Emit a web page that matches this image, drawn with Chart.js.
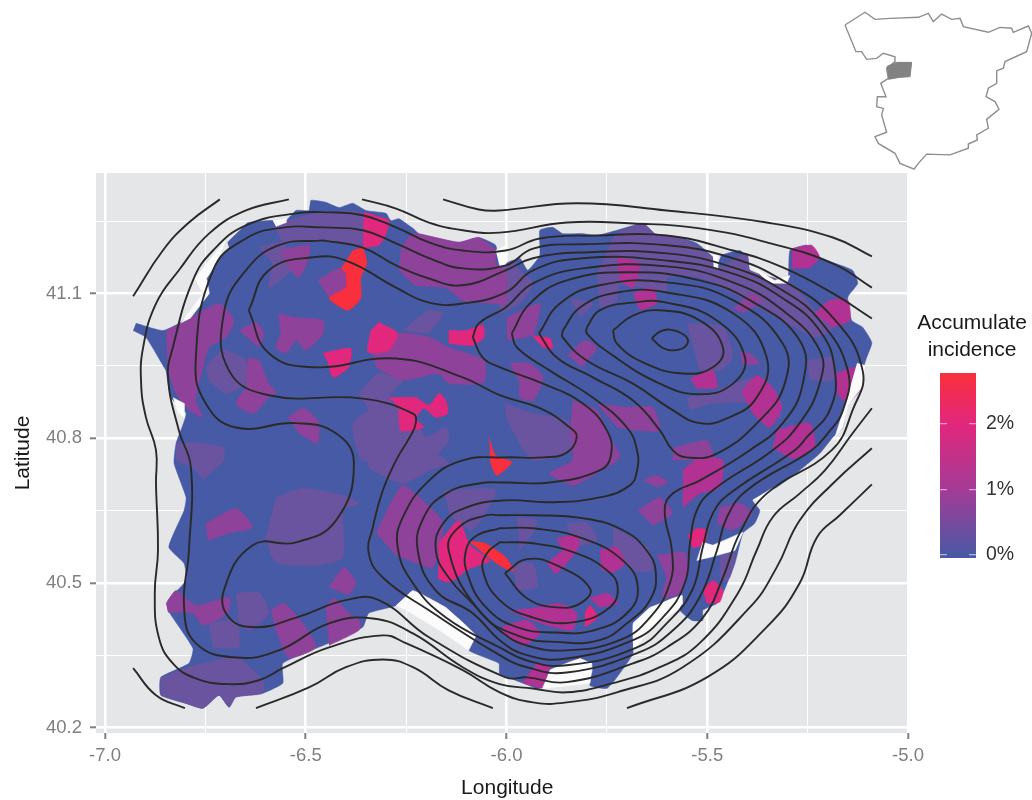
<!DOCTYPE html>
<html>
<head>
<meta charset="utf-8">
<title>Accumulate incidence map</title>
<script src="https://cdn.jsdelivr.net/npm/chart.js@4/dist/chart.umd.min.js"></script>
<style>
body { margin: 0; background: #fff; font-family: "Liberation Sans", Arial, sans-serif; }
canvas { position: absolute; display: block; }
#legendTitle { position: absolute; left: 910px; top: 308px; width: 124px; text-align: center; font-size: 21px; line-height: 27px; color: #1a1a1a; }
</style>
</head>
<body>
<canvas id="map" width="1032" height="800" style="left:0;top:0"></canvas>
<canvas id="inset" width="192" height="175" style="left:840px;top:0"></canvas>
<canvas id="scale" width="102" height="210" style="left:930px;top:360px"></canvas>
<div id="legendTitle">Accumulate<br>incidence</div>
<script>
// axes
var lonMajor = [-7, -6.5, -6, -5.5, -5];
var lonMinor = [-6.75, -6.25, -5.75, -5.25];
var latMajor = [40.2, 40.5, 40.8, 41.1];
var latMinor = [40.35, 40.65, 40.95, 41.25];

// all shapes below are flat lists: lon, lat, lon, lat, ...
var regionOutline = [
  -6.923,41.038, -6.856,41.023, -6.811,41.040, -6.774,41.071, -6.756,41.100, -6.768,41.131, -6.731,41.162, -6.691,41.195,
  -6.694,41.206, -6.656,41.237, -6.644,41.247, -6.582,41.251, -6.574,41.241, -6.549,41.251, -6.524,41.272, -6.492,41.272,
  -6.487,41.293, -6.450,41.289, -6.417,41.278, -6.383,41.287, -6.350,41.272, -6.300,41.266, -6.288,41.251, -6.268,41.255,
  -6.233,41.235, -6.218,41.224, -6.119,41.206, -6.069,41.216, -6.027,41.200, -6.017,41.158, -5.967,41.173, -5.947,41.148,
  -5.917,41.179, -5.917,41.231, -5.885,41.237, -5.860,41.224, -5.810,41.224, -5.775,41.220, -5.725,41.231, -5.660,41.245,
  -5.631,41.224, -5.601,41.206, -5.568,41.216, -5.526,41.204, -5.486,41.175, -5.476,41.154, -5.464,41.179, -5.419,41.189,
  -5.399,41.173, -5.394,41.148, -5.327,41.123, -5.299,41.127, -5.294,41.189, -5.252,41.200, -5.220,41.175, -5.187,41.164,
  -5.138,41.148, -5.125,41.121, -5.150,41.092, -5.140,41.044, -5.113,41.030, -5.090,40.998, -5.103,40.967, -5.113,40.940,
  -5.115,40.905, -5.152,40.872, -5.162,40.822, -5.187,40.802, -5.220,40.768, -5.270,40.733, -5.327,40.698, -5.387,40.671,
  -5.369,40.650, -5.382,40.623, -5.411,40.603, -5.431,40.540, -5.461,40.478, -5.476,40.457, -5.511,40.443, -5.511,40.422,
  -5.538,40.422, -5.568,40.443, -5.561,40.474, -5.601,40.464, -5.685,40.416, -5.685,40.354, -5.725,40.304, -5.750,40.281,
  -5.792,40.287, -5.785,40.325, -5.817,40.343, -5.892,40.319, -5.917,40.281, -5.959,40.292, -6.017,40.312, -6.019,40.333,
  -6.094,40.360, -6.076,40.391, -6.151,40.449, -6.233,40.484, -6.275,40.453, -6.343,40.437, -6.358,40.408, -6.442,40.375,
  -6.557,40.333, -6.557,40.292, -6.607,40.271, -6.674,40.263, -6.691,40.242, -6.716,40.267, -6.756,40.240, -6.798,40.250,
  -6.861,40.267, -6.861,40.304, -6.791,40.333, -6.781,40.364, -6.843,40.443, -6.843,40.464, -6.798,40.505, -6.803,40.540,
  -6.841,40.574, -6.803,40.650, -6.798,40.677, -6.828,40.748, -6.823,40.789, -6.798,40.851, -6.836,40.884, -6.848,40.940,
  -6.853,40.947, -6.898,41.009, -6.930,41.023
];

// municipalities by incidence tier, lowest first
var patchesLow = [
  [-6.617,41.195, -6.557,41.206, -6.532,41.154, -6.592,41.112, -6.582,41.162],
  [-6.582,41.241, -6.475,41.266, -6.358,41.266, -6.358,41.204, -6.457,41.210, -6.557,41.206],
  [-6.749,40.947, -6.706,40.982, -6.649,40.961, -6.649,40.913, -6.699,40.893, -6.741,40.920],
  [-6.258,41.023, -6.193,41.065, -6.158,41.059, -6.193,41.017],
  [-6.368,40.893, -6.318,40.934, -6.258,40.920, -6.293,40.884, -6.226,40.837, -6.201,40.802, -6.151,40.822, -6.144,40.795, -6.193,40.754, -6.358,40.754, -6.383,40.831, -6.343,40.858],
  [-6.823,40.789, -6.781,40.791, -6.706,40.781, -6.704,40.754, -6.731,40.733, -6.756,40.716, -6.781,40.739, -6.823,40.754],
  [-6.574,40.677, -6.507,40.696, -6.407,40.681, -6.368,40.665, -6.407,40.650, -6.407,40.553, -6.475,40.536, -6.574,40.542, -6.599,40.594],
  [-6.674,40.478, -6.617,40.480, -6.592,40.437, -6.642,40.401, -6.666,40.416],
  [-6.741,40.416, -6.674,40.422, -6.666,40.366, -6.731,40.366],
  [-6.861,40.304, -6.791,40.325, -6.756,40.333, -6.674,40.345, -6.607,40.298, -6.607,40.271, -6.674,40.263, -6.691,40.242, -6.716,40.267, -6.756,40.240, -6.798,40.250, -6.861,40.267],
  [-6.350,40.775, -6.193,40.775, -6.144,40.748, -6.193,40.733, -6.258,40.706, -6.343,40.737],
  [-6.158,40.692, -6.027,40.692, -6.069,40.623, -6.091,40.609, -6.141,40.640],
  [-6.004,40.872, -5.934,40.851, -5.850,40.837, -5.825,40.781, -5.934,40.754, -5.999,40.837],
  [-5.730,41.224, -5.660,41.245, -5.631,41.224, -5.568,41.216, -5.486,41.175, -5.486,41.148, -5.401,41.183, -5.394,41.148, -5.294,41.121, -5.232,41.065, -5.187,41.030, -5.227,41.009, -5.312,41.044, -5.436,41.100, -5.519,41.133, -5.601,41.133, -5.601,41.106, -5.660,41.112, -5.725,41.121, -5.775,41.141],
  [-6.017,41.154, -5.984,41.168, -5.967,41.148, -5.934,41.121, -5.967,41.079, -6.017,41.059],
  [-5.469,40.557, -5.431,40.561, -5.444,40.511, -5.469,40.499],
  [-5.252,40.961, -5.187,40.967, -5.187,40.920, -5.245,40.920],
  [-5.551,41.038, -5.461,41.030, -5.436,40.967, -5.469,40.940, -5.519,40.940],
  [-5.551,40.884, -5.486,40.893, -5.436,40.913, -5.369,40.926, -5.327,40.884, -5.319,40.843, -5.387,40.872, -5.486,40.872, -5.543,40.858],
  [-5.842,41.090, -5.785,41.079, -5.817,41.050],
  [-5.775,41.148, -5.725,41.148, -5.725,41.086, -5.768,41.071],
  [-5.974,40.636, -5.924,40.629, -5.934,40.603, -5.967,40.567],
  [-5.850,40.623, -5.800,40.625, -5.775,40.588, -5.835,40.574],
  [-5.984,40.540, -5.934,40.540, -5.924,40.491, -5.974,40.484],
  [-5.735,40.615, -5.651,40.574, -5.636,40.526, -5.685,40.526, -5.735,40.574]
];
var patchesMid = [
  [-6.562,41.189, -6.492,41.200, -6.492,41.175, -6.517,41.133, -6.542,41.154, -6.557,41.175],
  [-6.470,41.127, -6.417,41.152, -6.395,41.133, -6.400,41.092, -6.442,41.092],
  [-6.848,41.023, -6.806,41.040, -6.716,41.079, -6.679,41.044, -6.699,41.009, -6.741,40.988, -6.756,40.947, -6.774,40.878, -6.756,40.843, -6.798,40.864, -6.823,40.893, -6.843,40.940],
  [-6.666,41.023, -6.624,41.040, -6.604,41.017, -6.617,40.988],
  [-6.569,41.059, -6.524,41.050, -6.457,41.044, -6.457,41.017, -6.500,40.982, -6.524,41.003, -6.549,40.976, -6.574,40.988, -6.562,41.017],
  [-6.644,40.967, -6.617,40.961, -6.592,40.913, -6.574,40.895, -6.592,40.884, -6.632,40.851, -6.674,40.872, -6.649,40.905],
  [-6.544,40.843, -6.507,40.862, -6.470,40.837, -6.470,40.789, -6.517,40.810],
  [-6.263,41.193, -6.233,41.224, -6.119,41.206, -6.069,41.216, -6.027,41.189, -6.027,41.162, -6.002,41.148, -6.002,41.079, -6.034,41.079, -6.109,41.086, -6.151,41.112, -6.226,41.117, -6.268,41.148],
  [-6.333,40.976, -6.268,41.017, -6.193,41.009, -6.144,40.988, -6.056,40.961, -6.056,40.916, -6.144,40.913, -6.168,40.934, -6.258,40.920, -6.325,40.947],
  [-6.749,40.623, -6.674,40.654, -6.632,40.615, -6.691,40.603, -6.744,40.588],
  [-6.442,40.491, -6.405,40.532, -6.375,40.499, -6.393,40.474],
  [-6.848,40.457, -6.823,40.484, -6.774,40.453, -6.691,40.470, -6.694,40.437, -6.756,40.412, -6.781,40.437, -6.843,40.439],
  [-6.587,40.443, -6.554,40.457, -6.507,40.416, -6.475,40.366, -6.542,40.345, -6.574,40.401],
  [-6.450,40.449, -6.430,40.468, -6.393,40.437, -6.363,40.418, -6.368,40.401, -6.442,40.370],
  [-6.325,40.603, -6.288,40.665, -6.258,40.702, -6.201,40.665, -6.158,40.623, -6.183,40.532, -6.241,40.546, -6.275,40.557],
  [-5.660,40.712, -5.626,40.723, -5.598,40.708, -5.626,40.698],
  [-5.673,40.650, -5.618,40.677, -5.586,40.644, -5.636,40.619],
  [-5.835,40.878, -5.775,40.858, -5.743,40.802, -5.718,40.760, -5.792,40.719, -5.835,40.702, -5.892,40.727, -5.835,40.754, -5.842,40.816],
  [-5.775,40.872, -5.700,40.864, -5.636,40.864, -5.618,40.816, -5.668,40.816, -5.725,40.822],
  [-5.992,40.955, -5.942,40.955, -5.909,40.926, -5.934,40.878, -5.967,40.884, -5.967,40.913],
  [-5.999,41.050, -5.917,41.079, -5.924,41.038, -5.937,41.013, -5.999,41.003],
  [-5.847,40.972, -5.805,41.003, -5.775,40.988, -5.792,40.967, -5.812,40.947],
  [-5.419,40.978, -5.394,40.976, -5.369,40.955, -5.411,40.951],
  [-5.436,41.069, -5.387,41.100, -5.364,41.086, -5.411,41.059],
  [-5.586,40.779, -5.501,40.795, -5.486,40.760, -5.586,40.754],
  [-5.469,40.656, -5.419,40.665, -5.387,40.644, -5.436,40.609, -5.476,40.623],
  [-5.626,40.557, -5.556,40.563, -5.548,40.526, -5.568,40.478, -5.611,40.470, -5.601,40.511]
];
var patchesHigh = [
  [-5.232,41.059, -5.195,41.086, -5.150,41.086, -5.145,41.044, -5.187,41.030],
  [-5.182,40.934, -5.125,40.947, -5.115,40.905, -5.152,40.872, -5.177,40.893],
  [-5.289,41.193, -5.240,41.200, -5.220,41.175, -5.245,41.154, -5.289,41.152],
  [-5.543,40.924, -5.486,40.940, -5.476,40.905, -5.526,40.903],
  [-5.685,41.100, -5.636,41.112, -5.626,41.079, -5.668,41.065],
  [-5.725,41.175, -5.668,41.162, -5.685,41.112, -5.718,41.127],
  [-5.924,40.449, -5.867,40.457, -5.825,40.437, -5.837,40.401, -5.934,40.422, -5.992,40.443],
  [-5.875,40.592, -5.822,40.598, -5.822,40.571, -5.875,40.520, -5.897,40.540, -5.860,40.567],
  [-5.768,40.567, -5.725,40.574, -5.705,40.540, -5.735,40.522, -5.763,40.526],
  [-5.792,40.468, -5.748,40.478, -5.723,40.457, -5.768,40.449],
  [-5.959,40.292, -5.924,40.333, -5.892,40.325, -5.912,40.281],
  [-6.012,40.408, -5.949,40.422, -5.917,40.395, -5.959,40.370, -6.009,40.395],
  [-5.561,40.733, -5.519,40.760, -5.461,40.754, -5.469,40.698, -5.519,40.685, -5.561,40.656],
  [-5.414,40.895, -5.377,40.930, -5.337,40.905, -5.314,40.864, -5.344,40.822, -5.387,40.851],
  [-5.327,40.816, -5.245,40.831, -5.232,40.781, -5.287,40.758, -5.337,40.781]
];
var patchesHot = [
  [-6.355,41.268, -6.293,41.251, -6.300,41.224, -6.318,41.200, -6.358,41.195],
  [-6.318,41.040, -6.271,41.017, -6.293,40.982, -6.345,40.978, -6.338,41.023],
  [-6.457,40.976, -6.388,40.986, -6.393,40.947, -6.432,40.926, -6.445,40.957],
  [-6.293,40.884, -6.226,40.884, -6.193,40.868, -6.168,40.893, -6.151,40.878, -6.146,40.851, -6.176,40.843, -6.206,40.862, -6.226,40.841, -6.206,40.822, -6.263,40.816, -6.268,40.864],
  [-6.144,41.023, -6.101,41.023, -6.059,41.034, -6.056,41.009, -6.084,40.992, -6.144,40.996],
  [-6.168,40.582, -6.119,40.629, -6.091,40.578, -6.041,40.546, -6.091,40.530, -6.141,40.501, -6.171,40.509],
  [-5.937,41.013, -5.892,41.007, -5.885,40.986, -5.909,40.988],
  [-5.548,40.598, -5.526,40.613, -5.501,40.609, -5.506,40.582, -5.536,40.571],
  [-5.511,40.484, -5.486,40.505, -5.461,40.484, -5.469,40.460, -5.501,40.457],
  [-5.805,40.437, -5.792,40.453, -5.773,40.428, -5.805,40.408]
];
var patchesPeak = [
  [-6.383,41.189, -6.358,41.193, -6.348,41.162, -6.363,41.133, -6.363,41.090, -6.395,41.065, -6.442,41.090, -6.400,41.112, -6.400,41.141, -6.412,41.152],
  [-6.044,40.802, -6.027,40.764, -5.987,40.750, -6.024,40.723, -6.039,40.748, -6.041,40.775],
  [-6.094,40.586, -6.054,40.582, -6.002,40.553, -5.982,40.524, -6.017,40.536, -6.069,40.569]
];
var tierColors = ["#6b549f", "#8f4299", "#b23293", "#e1287c", "#f92f3d"];

// white slivers along the border of the map
var mapGaps = [
  [-6.275,40.453, -6.233,40.484, -6.151,40.449, -6.076,40.391, -6.094,40.360, -6.166,40.401, -6.241,40.439],
  [-5.685,40.416, -5.643,40.449, -5.563,40.474, -5.561,40.457, -5.576,40.443, -5.636,40.408, -5.685,40.360],
  [-5.892,40.319, -5.817,40.343, -5.787,40.333, -5.792,40.292, -5.909,40.281],
  [-5.526,40.546, -5.511,40.584, -5.486,40.578, -5.411,40.605, -5.431,40.567, -5.501,40.551],
  [-5.387,40.671, -5.327,40.702, -5.362,40.671],
  [-6.811,41.038, -6.756,41.100, -6.776,41.131, -6.700,41.210, -6.722,41.162, -6.747,41.131, -6.740,41.100, -6.788,41.048],
  [-6.831,40.884, -6.803,40.872, -6.803,40.843, -6.818,40.853],
  [-6.582,41.251, -6.549,41.255, -6.549,41.247, -6.574,41.239],
  [-6.027,41.189, -6.002,41.200, -6.002,41.158, -6.017,41.158],
  [-5.486,41.179, -5.474,41.179, -5.474,41.152, -5.484,41.152],
  [-5.394,41.158, -5.332,41.127, -5.294,41.137, -5.302,41.121, -5.344,41.121],
  [-5.127,40.955, -5.108,40.951, -5.115,40.905, -5.150,40.868, -5.162,40.822, -5.182,40.802, -5.157,40.868]
];

// density contours, from the summits outwards
var peakEast = [-5.638,41.007, -5.618,41.021, -5.593,41.025, -5.563,41.017, -5.548,41.003, -5.558,40.988, -5.586,40.982, -5.613,40.988, -5.638,41.007];
var ringEast2 = [-5.735,41.023, -5.685,41.054, -5.618,41.065, -5.519,41.044, -5.461,40.988, -5.486,40.947, -5.561,40.934, -5.660,40.957, -5.725,40.996, -5.735,41.023];
var ringEast3 = [-5.800,41.030, -5.768,41.065, -5.685,41.081, -5.601,41.081, -5.476,41.044, -5.406,40.967, -5.436,40.913, -5.519,40.891, -5.618,40.913, -5.743,40.976, -5.800,41.017, -5.800,41.030];
var ringEast4 = [-5.860,41.023, -5.817,41.071, -5.725,41.102, -5.601,41.102, -5.436,41.059, -5.352,40.967, -5.377,40.884, -5.451,40.841, -5.519,40.831, -5.586,40.858, -5.685,40.913, -5.800,40.961, -5.860,41.009, -5.860,41.023];
var ringEast5 = [-5.919,41.017, -5.867,41.079, -5.768,41.117, -5.601,41.123, -5.436,41.086, -5.312,40.996, -5.307,40.913, -5.369,40.837, -5.476,40.768, -5.551,40.760, -5.586,40.775, -5.618,40.816, -5.685,40.878, -5.785,40.926, -5.875,40.967, -5.919,41.017];
var peakSouth = [-6.004,40.520, -5.949,40.549, -5.875,40.536, -5.792,40.488, -5.817,40.457, -5.875,40.449, -5.949,40.468, -6.004,40.520];
var ringSouth2 = [-6.017,40.584, -5.934,40.582, -5.825,40.561, -5.750,40.526, -5.723,40.491, -5.743,40.449, -5.835,40.418, -5.934,40.428, -6.017,40.464, -6.059,40.526, -6.049,40.561, -6.017,40.584];
var ringSouth3 = [-6.017,40.613, -5.934,40.613, -5.810,40.592, -5.710,40.546, -5.673,40.491, -5.700,40.437, -5.785,40.401, -5.875,40.397, -5.974,40.408, -6.051,40.449, -6.096,40.515, -6.101,40.567, -6.074,40.598, -6.017,40.613];
var ringSouth4 = [-6.017,40.640, -5.934,40.640, -5.810,40.634, -5.710,40.609, -5.651,40.567, -5.628,40.520, -5.643,40.464, -5.700,40.416, -5.768,40.381, -5.867,40.377, -5.974,40.391, -6.069,40.443, -6.144,40.567, -6.119,40.615, -6.051,40.640, -6.017,40.640];
var ringS6 = [-5.987,41.017, -5.942,41.079, -5.850,41.127, -5.685,41.144, -5.519,41.127, -5.394,41.086, -5.270,41.003, -5.262,40.913, -5.312,40.831, -5.394,40.775, -5.519,40.712, -5.586,40.685, -5.606,40.650, -5.588,40.567, -5.593,40.499, -5.643,40.428, -5.718,40.381, -5.850,40.360, -5.949,40.370, -6.017,40.401, -6.084,40.457, -6.144,40.511, -6.176,40.567, -6.158,40.623, -6.101,40.656, -6.002,40.671, -5.892,40.667, -5.768,40.677, -5.693,40.702, -5.675,40.733, -5.675,40.775, -5.700,40.822, -5.785,40.884, -5.892,40.940, -5.974,40.988, -5.987,41.017];
var ringS7 = [-6.084,41.009, -6.069,41.038, -6.002,41.071, -5.934,41.121, -5.810,41.152, -5.601,41.156, -5.436,41.123, -5.312,41.065, -5.220,40.982, -5.220,40.913, -5.270,40.831, -5.337,40.775, -5.486,40.692, -5.526,40.650, -5.543,40.582, -5.556,40.499, -5.611,40.428, -5.685,40.381, -5.850,40.343, -5.949,40.350, -6.017,40.381, -6.084,40.437, -6.176,40.484, -6.221,40.567, -6.206,40.636, -6.151,40.685, -6.069,40.706, -6.002,40.708, -5.892,40.708, -5.768,40.733, -5.740,40.764, -5.750,40.816, -5.810,40.872, -5.909,40.913, -6.017,40.947, -6.059,40.967, -6.084,41.009];
var ringWide8 = [-6.642,41.065, -6.592,41.148, -6.482,41.175, -6.400,41.168, -6.275,41.112, -6.193,41.081, -6.109,41.079, -6.002,41.102, -5.934,41.148, -5.810,41.173, -5.601,41.168, -5.436,41.141, -5.312,41.090, -5.220,41.023, -5.182,40.940, -5.195,40.858, -5.252,40.802, -5.282,40.775, -5.444,40.685, -5.486,40.644, -5.511,40.574, -5.538,40.484, -5.601,40.416, -5.675,40.366, -5.850,40.329, -5.949,40.339, -6.017,40.366, -6.151,40.428, -6.233,40.499, -6.271,40.574, -6.258,40.636, -6.193,40.712, -6.109,40.754, -6.002,40.760, -5.909,40.760, -5.850,40.770, -5.825,40.802, -5.842,40.822, -5.917,40.862, -6.017,40.889, -6.109,40.926, -6.275,40.965, -6.482,40.947, -6.592,40.976, -6.642,41.065];
var ringWide9 = [-6.457,41.210, -6.358,41.195, -6.275,41.158, -6.193,41.131, -6.109,41.117, -6.002,41.148, -5.934,41.173, -5.810,41.185, -5.601,41.183, -5.436,41.154, -5.312,41.106, -5.220,41.044, -5.150,40.940, -5.162,40.858, -5.200,40.810, -5.240,40.775, -5.401,40.692, -5.451,40.636, -5.476,40.567, -5.519,40.470, -5.586,40.401, -5.675,40.354, -5.850,40.314, -5.949,40.325, -6.017,40.350, -6.193,40.443, -6.308,40.511, -6.343,40.561, -6.333,40.615, -6.308,40.692, -6.275,40.754, -6.241,40.802, -6.226,40.831, -6.233,40.851, -6.358,40.882, -6.592,40.889, -6.691,40.940, -6.704,41.059, -6.649,41.148, -6.567,41.200, -6.457,41.210];
var ringWide10 = [-6.457,41.237, -6.358,41.231, -6.275,41.204, -6.193,41.173, -6.109,41.152, -6.002,41.158, -5.934,41.193, -5.810,41.202, -5.601,41.200, -5.436,41.173, -5.312,41.127, -5.187,41.050, -5.113,40.940, -5.138,40.858, -5.190,40.775, -5.352,40.685, -5.419,40.603, -5.461,40.511, -5.511,40.428, -5.601,40.366, -5.685,40.333, -5.850,40.294, -5.949,40.304, -6.002,40.304, -6.193,40.387, -6.318,40.464, -6.400,40.464, -6.524,40.428, -6.624,40.408, -6.691,40.428, -6.704,40.484, -6.632,40.578, -6.524,40.584, -6.425,40.629, -6.380,40.748, -6.425,40.810, -6.524,40.831, -6.674,40.822, -6.749,40.872, -6.774,40.961, -6.731,41.148, -6.649,41.214, -6.552,41.237, -6.457,41.237];
var ringOpen11 = [-5.090,40.862, -5.138,40.810, -5.207,40.733, -5.270,40.685, -5.337,40.636, -5.377,40.567, -5.424,40.478, -5.519,40.375, -5.618,40.325, -5.735,40.292, -5.850,40.273, -5.934,40.281, -6.017,40.290, -6.109,40.325, -6.233,40.395, -6.333,40.426, -6.442,40.416, -6.567,40.360, -6.674,40.345, -6.774,40.375, -6.803,40.449, -6.791,40.567, -6.786,40.739, -6.816,40.816, -6.843,40.926, -6.831,40.988, -6.781,41.127, -6.731,41.189, -6.649,41.241, -6.524,41.266, -6.442,41.268, -6.358,41.262, -6.275,41.237, -6.193,41.206, -6.109,41.189, -6.002,41.189, -5.917,41.214, -5.775,41.220, -5.601,41.220, -5.436,41.189, -5.312,41.154, -5.187,41.100, -5.090,41.048];
var outerLower = [-5.090,40.779, -5.187,40.706, -5.270,40.629, -5.327,40.532, -5.394,40.449, -5.561,40.325, -5.725,40.273, -5.850,40.252, -5.934,40.252, -6.017,40.273, -6.109,40.319, -6.251,40.375, -6.308,40.391, -6.442,40.366, -6.557,40.323, -6.617,40.298, -6.691,40.290, -6.774,40.302, -6.831,40.333, -6.866,40.387, -6.876,40.478, -6.868,40.567, -6.873,40.706, -6.873,40.775, -6.898,40.843, -6.910,40.913, -6.905,40.988, -6.873,41.079, -6.816,41.148, -6.741,41.224, -6.649,41.272, -6.542,41.295];
var outerUpper = [-6.360,41.295, -6.275,41.276, -6.193,41.247, -6.109,41.231, -6.017,41.226, -5.850,41.247, -5.685,41.245, -5.519,41.235, -5.352,41.206, -5.187,41.162, -5.090,41.112];
var rimTop = [-6.158,41.295, -6.069,41.274, -6.017,41.272, -5.825,41.287, -5.601,41.272, -5.352,41.247, -5.187,41.216, -5.090,41.177];
var rimEast = [-5.700,40.240, -5.501,40.304, -5.352,40.408, -5.270,40.499, -5.227,40.594, -5.170,40.640, -5.090,40.704];
var rimSouth = [-6.624,40.240, -6.492,40.283, -6.400,40.325, -6.308,40.341, -6.233,40.325, -6.144,40.277, -6.034,40.240];
var rimSouthWest = [-6.930,40.323, -6.873,40.267, -6.801,40.240];
var rimNorthWest = [-6.930,41.094, -6.856,41.189, -6.791,41.247, -6.714,41.295];
var contourLines = [peakEast, ringEast2, ringEast3, ringEast4, ringEast5, peakSouth, ringSouth2, ringSouth3, ringSouth4, ringS6, ringS7, ringWide8, ringWide9, ringWide10, ringOpen11, outerLower, outerUpper, rimTop, rimEast, rimSouth, rimSouthWest, rimNorthWest];

// inset: Spain and the study area
var spainOutline = [-9.30,43.14, -7.95,43.77, -7.275,43.42, -6.26,43.47, -4.35,43.52, -3.675,43.72, -3.34,43.31, -2.775,43.68, -2.10,43.42, -1.54,43.47, -1.31,43.06, 0.375,42.78, 1.16,43.02, 1.95,42.98, 2.06,42.78, 3.075,43.09, 3.30,42.73, 2.96,41.82, 1.50,41.33, 1.39,41.00, 0.94,40.88, 0.94,40.25, 0.375,40.01, 0.22,39.59, 0.825,39.35, 1.095,38.97, 0.26,38.47, 0.375,38.03, -0.41,37.70, -0.37,37.45, -0.975,37.25, -0.975,37.04, -2.21,36.71, -3.79,36.75, -4.35,36.29, -4.64,36.00, -5.59,36.29, -5.925,36.79, -7.05,37.28, -7.275,37.61, -6.49,37.83, -6.825,38.69, -6.71,39.01, -7.16,39.10, -7.12,39.59, -6.53,39.59, -6.89,40.25, -6.375,40.50, -6.49,40.99, -5.925,41.33, -5.925,41.57, -6.71,41.74, -7.16,41.49, -7.84,41.44, -8.18,41.82, -8.56,41.82, -9.30,43.14];
var studyArea = [-6.49,41.08, -5.81,41.29, -4.80,41.29, -4.91,40.58, -5.59,40.55, -6.375,40.45];

// colour bar
var legendTicks = [0, 1, 2];
var legendRange = [-0.046, 2.78];

function toPoints(flat) {
    var pts = [];
    for (var i = 0; i < flat.length; i += 2)
        pts.push({x: flat[i], y: flat[i + 1]});
    return pts;
}
function shape(flat, color, tension) {
    return {data: toPoints(flat), showLine: true, fill: 'shape', backgroundColor: color, borderColor: color, borderWidth: 0.5, pointRadius: 0, tension: tension};
}
function contour(flat) {
    return {data: toPoints(flat), showLine: true, fill: false, borderColor: '#2a2a2a', borderWidth: 1.9, pointRadius: 0, tension: 0.45};
}

// later entries sit on top, Chart.js draws the first dataset last so the list gets reversed
var datasets = [shape(regionOutline, '#465aa5', 0.15)];
[patchesLow, patchesMid, patchesHigh, patchesHot, patchesPeak].forEach(function(tier, t) {
    tier.forEach(function(p) { datasets.push(shape(p, tierColors[t], 0.2)); });
});
mapGaps.forEach(function(p) { datasets.push(shape(p, '#fbfbfb', 0)); });
contourLines.forEach(function(c) { datasets.push(contour(c)); });
datasets.reverse();

var panelBackground = {
    id: 'panelBackground',
    beforeDraw: function(chart) {
        var a = chart.chartArea;
        chart.ctx.save();
        chart.ctx.fillStyle = '#e5e6e8';
        chart.ctx.fillRect(a.left, a.top, a.right - a.left, a.bottom - a.top);
        chart.ctx.restore();
    }
};

function axis(major, minor, min, max, titleText, size, titlePadding, tickPadding) {
    return {
        type: 'linear', min: min, max: max,
        title: {display: true, text: titleText, color: '#1a1a1a', font: {family: 'Liberation Sans', size: 21}, padding: titlePadding},
        border: {display: false},
        afterBuildTicks: function(s) {
            s.ticks = major.concat(minor).sort(function(a, b) { return a - b; }).map(function(v) { return {value: v}; });
        },
        afterFit: function(s) {
            if (s.isHorizontal()) s.height = size; else s.width = size;
        },
        grid: {
            color: '#ffffff',
            lineWidth: function(c) { return major.indexOf(c.tick.value) >= 0 ? 2.6 : 1; },
            tickColor: function(c) { return major.indexOf(c.tick.value) >= 0 ? '#7f7f7f' : 'rgba(0,0,0,0)'; },
            tickLength: 6,
            tickWidth: 2
        },
        ticks: {
            autoSkip: false, maxRotation: 0, color: '#7f7f7f', padding: tickPadding,
            font: {family: 'Liberation Sans', size: 18.5},
            callback: function(v) { return major.indexOf(v) >= 0 ? v.toFixed(1) : ''; }
        }
    };
}

new Chart(document.getElementById('map').getContext('2d'), {
    type: 'scatter',
    data: {datasets: datasets},
    options: {
        responsive: false, animation: false, events: [],
        layout: {padding: {left: 0, top: 173, right: 124, bottom: 0}},
        plugins: {legend: {display: false}, tooltip: {enabled: false}},
        scales: {
            x: axis(lonMajor, lonMinor, -7.0224, -5, '\u2002Longitude', 67, {top: 8, bottom: -1}, 6),
            y: axis(latMajor, latMinor, 40.1886, 41.3497, 'Latitude', 96, {top: 11, bottom: 6}, 8)
        }
    },
    plugins: [panelBackground]
});

new Chart(document.getElementById('inset').getContext('2d'), {
    type: 'scatter',
    data: {datasets: [
        {data: toPoints(studyArea), showLine: true, fill: 'shape', backgroundColor: '#828282', borderColor: '#828282', borderWidth: 1, pointRadius: 0},
        {data: toPoints(spainOutline), showLine: true, fill: false, borderColor: '#8e8e8e', borderWidth: 1.4, pointRadius: 0}
    ]},
    options: {
        responsive: false, animation: false, events: [],
        plugins: {legend: {display: false}, tooltip: {enabled: false}},
        scales: {
            x: {type: 'linear', display: false, min: -9.6375, max: 3.3225},
            y: {type: 'linear', display: false, min: 35.715, max: 44.3775}
        }
    }
});

new Chart(document.getElementById('scale').getContext('2d'), {
    type: 'bar',
    data: {
        labels: [''],
        datasets: [{
            data: [legendRange],
            barPercentage: 1, categoryPercentage: 1,
            backgroundColor: function(c) {
                var area = c.chart.chartArea;
                if (!area || !isFinite(area.top) || !isFinite(area.bottom)) return '#a43b96';
                var g = c.chart.ctx.createLinearGradient(0, area.bottom, 0, area.top);
                g.addColorStop(0, '#465aa5');
                g.addColorStop(0.37, '#a43b96');
                g.addColorStop(0.72, '#e1277d');
                g.addColorStop(1, '#fa2f3c');
                return g;
            }
        }]
    },
    options: {
        responsive: false, animation: false, events: [],
        layout: {padding: {left: 10, top: 13, right: 0, bottom: 12}},
        plugins: {legend: {display: false}, tooltip: {enabled: false}},
        scales: {
            x: {display: false},
            y: {
                position: 'right', min: legendRange[0], max: legendRange[1],
                afterBuildTicks: function(s) { s.ticks = legendTicks.map(function(v) { return {value: v}; }); },
                afterFit: function(s) { s.width = 56; s.paddingTop = 0; s.paddingBottom = 0; },
                border: {display: false, dash: [7, 22, 7]},
                grid: {color: 'rgba(255,255,255,0.55)', lineWidth: 1.2, drawTicks: false, z: 1},
                ticks: {color: '#333333', padding: 10, font: {family: 'Liberation Sans', size: 19.5}, callback: function(v) { return v + '%'; }}
            }
        }
    }
});
</script>
</body>
</html>
